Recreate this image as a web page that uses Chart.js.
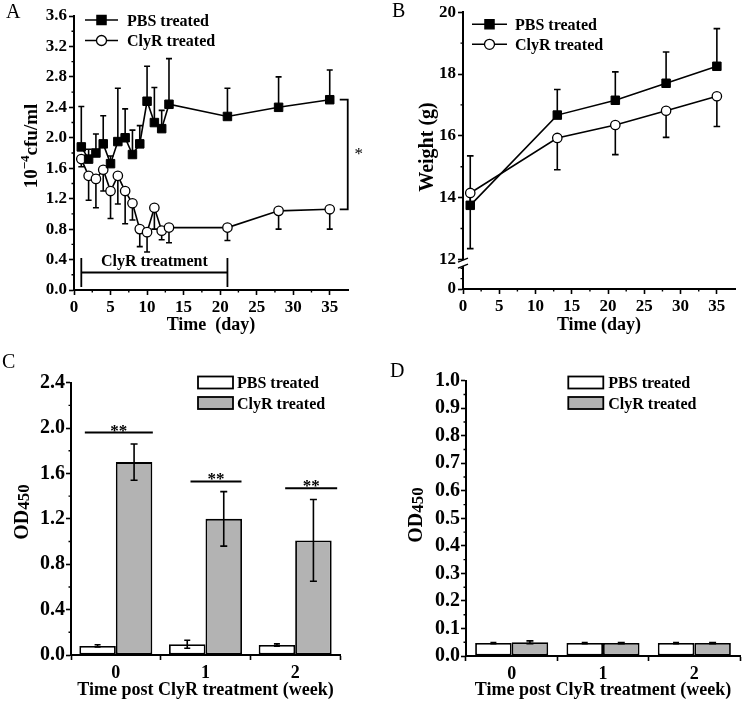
<!DOCTYPE html>
<html>
<head>
<meta charset="utf-8">
<script src="https://cdn.jsdelivr.net/npm/chart.js@4.4.0/dist/chart.umd.min.js"></script>
<style>
  html, body { margin: 0; padding: 0; background: #fff; }
  #wrap { position: relative; width: 742px; height: 702px; }
  canvas { position: absolute; }
</style>
</head>
<body>
<div id="wrap">
  <canvas id="cA" width="371" height="350" style="left:0;top:0"></canvas>
  <canvas id="cB" width="371" height="350" style="left:371px;top:0"></canvas>
  <canvas id="cC" width="371" height="352" style="left:0;top:350px"></canvas>
  <canvas id="cD" width="371" height="352" style="left:371px;top:350px"></canvas>
</div>
<script>
// panel A: bacterial load
const daysA = [1, 2, 3, 4, 5, 6, 7, 8, 9, 10, 11, 12, 13, 21, 28, 35];
const pbsCfu = [1.88, 1.72, 1.80, 1.92, 1.66, 1.95, 2.00, 1.78, 1.92, 2.48, 2.20, 2.12, 2.44, 2.28, 2.40, 2.50];
const pbsCfuErr = [0.53, 0.13, 0.25, 0.37, 0.10, 0.70, 0.38, 0.32, 0.24, 0.46, 0.46, 0.24, 0.60, 0.37, 0.40, 0.39];
const clyrCfu = [1.72, 1.50, 1.46, 1.58, 1.30, 1.50, 1.30, 1.14, 0.80, 0.76, 1.08, 0.78, 0.82, 0.82, 1.04, 1.06];
const clyrCfuErr = [0.10, 0.32, 0.38, 0.28, 0.36, 0.37, 0.43, 0.22, 0.23, 0.26, 0.28, 0.12, 0.20, 0.17, 0.24, 0.26];
const treatmentDays = [1, 21];
const cfuTicks = [0, 0.4, 0.8, 1.2, 1.6, 2.0, 2.4, 2.8, 3.2, 3.6];
const cfuMinor = [0.2, 0.6, 1.0, 1.4, 1.8, 2.2, 2.6, 3.0, 3.4];
const dayTicks = [0, 5, 10, 15, 20, 25, 30, 35];
const dayMinor = [2.5, 7.5, 12.5, 17.5, 22.5, 27.5, 32.5];

// panel B: body weight
const daysB = [1, 13, 21, 28, 35];
const pbsWeight = [13.75, 16.67, 17.15, 17.70, 18.25];
const pbsWeightErr = [1.60, 0.83, 0.92, 1.01, 1.22];
const clyrWeight = [14.15, 15.93, 16.35, 16.81, 17.28];
const clyrWeightErr = [1.80, 1.03, 0.96, 0.86, 0.98];
const weightTicks = [12, 14, 16, 18, 20];
const weightMinor = [13, 15, 17, 19];
const weightLowTicks = [0];
const weightLowMinor = [1, 2];

// panels C and D: OD450
const weeks = ['0', '1', '2'];
const pbsOdC = [0.080, 0.095, 0.088];
const pbsOdCErr = [0.010, 0.035, 0.010];
const clyrOdC = [1.70, 1.20, 1.01];
const clyrOdCErr = [0.16, 0.24, 0.36];
const sigC = [1.96, 1.53, 1.47];
const odTicksC = [0, 0.4, 0.8, 1.2, 1.6, 2.0, 2.4];
const odMinorC = [0.2, 0.6, 1.0, 1.4, 1.8, 2.2];
const pbsOdD = [0.047, 0.047, 0.047];
const pbsOdDErr = [0.002, 0.002, 0.002];
const clyrOdD = [0.050, 0.047, 0.047];
const clyrOdDErr = [0.005, 0.002, 0.002];
const odTicksD = [0, 0.1, 0.2, 0.3, 0.4, 0.5, 0.6, 0.7, 0.8, 0.9, 1.0];
const odMinorD = [0.05, 0.15, 0.25, 0.35, 0.45, 0.55, 0.65, 0.75, 0.85, 0.95];

const SERIF = '"Liberation Serif", "Times New Roman", serif';
const GRAY = '#b3b3b3';
Chart.defaults.font.family = SERIF;
Chart.defaults.color = '#000';

function fixedTicks(values) {
  return axis => { axis.ticks = values.map(v => ({ value: v })); };
}

function axisStyle(size, pad) {
  return {
    grid: { display: true, drawOnChartArea: false, drawTicks: true, tickLength: 5, tickWidth: 1.6, tickColor: '#000', color: '#000' },
    border: { display: true, color: '#000', width: 2 },
    ticks: { color: '#000', font: { family: SERIF, size: size, weight: 'bold' }, padding: pad, maxRotation: 0, autoSkip: false }
  };
}

function xTitle(text, padBottom) {
  return { display: true, text: text, color: '#000', font: { family: SERIF, size: 18, weight: 'bold' }, padding: { top: 0, bottom: padBottom } };
}

function drawMinor(chart, id, values, len) {
  const s = chart.scales[id], ctx = chart.ctx;
  ctx.save();
  ctx.strokeStyle = '#000';
  ctx.lineWidth = 1.4;
  ctx.beginPath();
  values.forEach(v => {
    const p = s.getPixelForValue(v);
    if (s.isHorizontal()) { ctx.moveTo(p, s.top); ctx.lineTo(p, s.top + len); }
    else { ctx.moveTo(s.right, p); ctx.lineTo(s.right - len, p); }
  });
  ctx.stroke();
  ctx.restore();
}

function drawErrors(chart, dsIndex, errs, dir, cap) {
  const meta = chart.getDatasetMeta(dsIndex);
  const ys = chart.scales[meta.yAxisID];
  const raw = chart.data.datasets[dsIndex].data;
  const ctx = chart.ctx;
  ctx.save();
  ctx.strokeStyle = '#000';
  ctx.lineWidth = 1.6;
  meta.data.forEach((el, i) => {
    const v = typeof raw[i] === 'object' ? raw[i].y : raw[i];
    const x = el.x;
    const ends = [];
    if (dir === 'up' || dir === 'both') ends.push(ys.getPixelForValue(v + errs[i]));
    if (dir === 'down' || dir === 'both') ends.push(ys.getPixelForValue(v - errs[i]));
    const mid = ys.getPixelForValue(v);
    ctx.beginPath();
    ends.forEach(e => {
      ctx.moveTo(x, mid); ctx.lineTo(x, e);
      ctx.moveTo(x - cap, e); ctx.lineTo(x + cap, e);
    });
    ctx.stroke();
  });
  ctx.restore();
}

function marker(ctx, style, x, y, filled) {
  ctx.save();
  ctx.lineWidth = 1.3;
  ctx.strokeStyle = '#000';
  ctx.fillStyle = filled ? '#000' : '#fff';
  ctx.beginPath();
  if (style === 'rect') ctx.rect(x - 4.6, y - 4.6, 9.2, 9.2);
  else ctx.arc(x, y, 5, 0, Math.PI * 2);
  ctx.fill();
  ctx.stroke();
  ctx.restore();
}

function lineLegend(chart, x0, x1, textX, rows) {
  const ctx = chart.ctx;
  chart.data.datasets.forEach((ds, i) => {
    const y = rows[i];
    ctx.save();
    ctx.strokeStyle = '#000';
    ctx.lineWidth = 1.6;
    ctx.beginPath(); ctx.moveTo(x0, y); ctx.lineTo(x1, y); ctx.stroke();
    ctx.restore();
    marker(ctx, ds.pointStyle, (x0 + x1) / 2, y, ds.pointBackgroundColor === '#000');
    ctx.save();
    ctx.fillStyle = '#000';
    ctx.font = 'bold 16px ' + SERIF;
    ctx.textBaseline = 'alphabetic';
    ctx.fillText(ds.label, textX, y + 5.5);
    ctx.restore();
  });
}

function barLegend(chart, x0, textX, rows) {
  const ctx = chart.ctx;
  chart.data.datasets.forEach((ds, i) => {
    const y = rows[i];
    ctx.save();
    ctx.fillStyle = ds.backgroundColor;
    ctx.strokeStyle = '#000';
    ctx.lineWidth = 1.8;
    ctx.fillRect(x0, y - 6, 35, 12);
    ctx.strokeRect(x0, y - 6, 35, 12);
    ctx.fillStyle = '#000';
    ctx.font = 'bold 16px ' + SERIF;
    ctx.textBaseline = 'alphabetic';
    ctx.fillText(ds.label, textX, y + 5.5);
    ctx.restore();
  });
}

// rotated axis title made of parts with their own size and baseline shift
function vTitle(ctx, cx, cy, parts) {
  ctx.save();
  let total = 0;
  parts.forEach(p => {
    ctx.font = 'bold ' + p.size + 'px ' + SERIF;
    p.w = ctx.measureText(p.text).width;
    total += p.w;
  });
  ctx.translate(cx, cy);
  ctx.rotate(-Math.PI / 2);
  ctx.fillStyle = '#000';
  ctx.textBaseline = 'alphabetic';
  ctx.textAlign = 'left';
  const base = parts[0].size * 0.33;
  let u = -total / 2;
  parts.forEach(p => {
    ctx.font = 'bold ' + p.size + 'px ' + SERIF;
    ctx.fillText(p.text, u, base + (p.shift || 0));
    u += p.w;
  });
  ctx.restore();
}

function panelLabel(ctx, text, x, y) {
  ctx.save();
  ctx.fillStyle = '#000';
  ctx.font = '20px ' + SERIF;
  ctx.textBaseline = 'alphabetic';
  ctx.fillText(text, x, y);
  ctx.restore();
}

const baseOpts = {
  responsive: false,
  animation: false,
  devicePixelRatio: 1,
  plugins: { legend: { display: false }, tooltip: { enabled: false } }
};

// ---------- A ----------
const axA = axisStyle(17, 2), axAx = axisStyle(17, 2);
new Chart(document.getElementById('cA'), {
  type: 'line',
  data: {
    datasets: [
      { label: 'PBS treated', data: daysA.map((d, i) => ({ x: d, y: pbsCfu[i] })),
        borderColor: '#000', borderWidth: 1.6, pointStyle: 'rect', pointRadius: 6,
        pointBackgroundColor: '#000', pointBorderColor: '#000', pointBorderWidth: 1 },
      { label: 'ClyR treated', data: daysA.map((d, i) => ({ x: d, y: clyrCfu[i] })),
        borderColor: '#000', borderWidth: 1.6, pointStyle: 'circle', pointRadius: 4.7,
        pointBackgroundColor: '#fff', pointBorderColor: '#000', pointBorderWidth: 1.3 }
    ]
  },
  options: {
    ...baseOpts,
    layout: { padding: { left: 0, top: 16, right: 23, bottom: 0 } },
    scales: {
      x: { type: 'linear', min: 0, max: 37.5, afterBuildTicks: fixedTicks(dayTicks),
           afterFit: s => { s.height = 60; }, ...axAx,
           ticks: { ...axAx.ticks, callback: v => String(v) }, title: xTitle('Time  (day)', 14) },
      y: { type: 'linear', min: 0, max: 3.6, afterBuildTicks: fixedTicks(cfuTicks),
           afterFit: s => { s.width = 74; }, ...axA,
           ticks: { ...axA.ticks, callback: v => v.toFixed(1) } }
    }
  },
  plugins: [{
    id: 'decorA',
    beforeDatasetsDraw(chart) {
      drawErrors(chart, 0, pbsCfuErr, 'up', 3);
      drawErrors(chart, 1, clyrCfuErr, 'down', 3);
    },
    afterDraw(chart) {
      const ctx = chart.ctx, xs = chart.scales.x, ys = chart.scales.y;
      drawMinor(chart, 'x', dayMinor, 2.5);
      drawMinor(chart, 'y', cfuMinor, 2.5);
      // treatment period bracket
      const t1 = xs.getPixelForValue(treatmentDays[0]), t2 = xs.getPixelForValue(treatmentDays[1]);
      const yb = ys.getPixelForValue(0.23), ylo = ys.getPixelForValue(0.04), yhi = ys.getPixelForValue(0.42);
      ctx.save();
      ctx.strokeStyle = '#000';
      ctx.lineWidth = 1.8;
      ctx.beginPath();
      ctx.moveTo(t1, ylo); ctx.lineTo(t1, yhi);
      ctx.moveTo(t2, ylo); ctx.lineTo(t2, yhi);
      ctx.moveTo(t1, yb); ctx.lineTo(t2, yb);
      ctx.stroke();
      ctx.fillStyle = '#000';
      ctx.font = 'bold 16px ' + SERIF;
      ctx.textAlign = 'center';
      ctx.fillText('ClyR treatment', (t1 + t2) / 2, yb - 6);
      // significance bracket at day 35
      const last = daysA.length - 1;
      const xe = xs.getPixelForValue(daysA[last]);
      const ya = ys.getPixelForValue(pbsCfu[last]), yc = ys.getPixelForValue(clyrCfu[last]);
      ctx.beginPath();
      ctx.moveTo(xe + 10, ya); ctx.lineTo(xe + 18, ya); ctx.lineTo(xe + 18, yc); ctx.lineTo(xe + 10, yc);
      ctx.stroke();
      ctx.font = '17px ' + SERIF;
      ctx.fillText('*', xe + 29, (ya + yc) / 2 + 4);
      ctx.restore();
      lineLegend(chart, 85, 118, 127, [20, 40.5]);
      vTitle(ctx, 31, 146, [
        { text: '10', size: 19 },
        { text: '\u22124', size: 13, shift: -8 },
        { text: 'cfu/ml', size: 19 }
      ]);
      panelLabel(ctx, 'A', 6, 18);
    }
  }]
});

// ---------- B ----------
const axB = axisStyle(17, 2), axBx = axisStyle(17, 2);
new Chart(document.getElementById('cB'), {
  type: 'line',
  data: {
    datasets: [
      { label: 'PBS treated', yAxisID: 'y', data: daysB.map((d, i) => ({ x: d, y: pbsWeight[i] })),
        borderColor: '#000', borderWidth: 1.6, pointStyle: 'rect', pointRadius: 6,
        pointBackgroundColor: '#000', pointBorderColor: '#000', pointBorderWidth: 1 },
      { label: 'ClyR treated', yAxisID: 'y', data: daysB.map((d, i) => ({ x: d, y: clyrWeight[i] })),
        borderColor: '#000', borderWidth: 1.6, pointStyle: 'circle', pointRadius: 4.7,
        pointBackgroundColor: '#fff', pointBorderColor: '#000', pointBorderWidth: 1.3 }
    ]
  },
  options: {
    ...baseOpts,
    layout: { padding: { left: 0, top: 11, right: 4, bottom: 0 } },
    scales: {
      x: { type: 'linear', min: 0, max: 37.5, afterBuildTicks: fixedTicks(dayTicks),
           afterFit: s => { s.height = 61; }, ...axBx,
           ticks: { ...axBx.ticks, callback: v => String(v) }, title: xTitle('Time (day)', 14) },
      yLow: { type: 'linear', position: 'left', stack: 'w', stackWeight: 26, min: 0, max: 2.5,
              afterBuildTicks: fixedTicks(weightLowTicks), afterFit: s => { s.width = 92; }, ...axB,
              ticks: { ...axB.ticks, callback: v => String(v) } },
      y: { type: 'linear', position: 'left', stack: 'w', stackWeight: 252, min: 11.88, max: 20,
           afterBuildTicks: fixedTicks(weightTicks), afterFit: s => { s.width = 92; }, ...axB,
           ticks: { ...axB.ticks, callback: v => String(v) } }
    }
  },
  plugins: [{
    id: 'decorB',
    beforeDatasetsDraw(chart) {
      drawErrors(chart, 0, pbsWeightErr, 'up', 3.3);
      drawErrors(chart, 1, clyrWeightErr, 'down', 3.3);
    },
    afterDraw(chart) {
      const ctx = chart.ctx;
      drawMinor(chart, 'x', dayMinor, 2.5);
      drawMinor(chart, 'y', weightMinor, 2.5);
      drawMinor(chart, 'yLow', weightLowMinor, 2.5);
      // axis break marks
      const up = chart.scales.y, low = chart.scales.yLow;
      const ax = up.right;
      const yb = Math.min(up.bottom, low.bottom);
      ctx.save();
      ctx.fillStyle = '#fff';
      ctx.fillRect(ax - 3, yb - 3, 6, 6);
      ctx.strokeStyle = '#000';
      ctx.lineWidth = 1.5;
      ctx.beginPath();
      ctx.moveTo(ax - 5, yb - 1); ctx.lineTo(ax + 5, yb - 5);
      ctx.moveTo(ax - 5, yb + 5); ctx.lineTo(ax + 5, yb + 1);
      ctx.stroke();
      ctx.restore();
      lineLegend(chart, 101, 136, 144, [24.3, 44.3]);
      vTitle(ctx, 55, 147, [{ text: 'Weight (g)', size: 20 }]);
      panelLabel(ctx, 'B', 21, 17);
    }
  }]
});

// ---------- C and D ----------
function odChart(id, pbs, pbsErr, clyr, clyrErr, yMax, ticks, minor, size, pad, extra) {
  const ay = axisStyle(20, 1), ax = axisStyle(18, 3);
  return new Chart(document.getElementById(id), {
    type: 'bar',
    data: {
      labels: weeks,
      datasets: [
        { label: 'PBS treated', data: pbs, backgroundColor: '#fff', borderColor: '#000', borderWidth: 1.8, borderSkipped: false },
        { label: 'ClyR treated', data: clyr, backgroundColor: GRAY, borderColor: '#000', borderWidth: 1.8, borderSkipped: false }
      ]
    },
    options: {
      ...baseOpts,
      datasets: { bar: { categoryPercentage: size.cat, barPercentage: 1.0 } },
      layout: { padding: pad },
      scales: {
        x: { type: 'category', afterFit: s => { s.height = size.xh; }, ...ax,
             grid: { ...ax.grid, offset: true }, title: xTitle('Time post ClyR treatment (week)', 0.5) },
        y: { type: 'linear', min: 0, max: yMax, afterBuildTicks: fixedTicks(ticks),
             afterFit: s => { s.width = size.yw; }, ...ay,
             ticks: { ...ay.ticks, callback: v => v.toFixed(1) } }
      }
    },
    plugins: [{
      id: 'decor' + id,
      afterDatasetsDraw(chart) {
        drawErrors(chart, 0, pbsErr, 'both', 3);
        drawErrors(chart, 1, clyrErr, 'both', 3.5);
      },
      afterDraw(chart) {
        drawMinor(chart, 'y', minor, 2.5);
        extra(chart);
      }
    }]
  });
}

odChart('cC', pbsOdC, pbsOdCErr, clyrOdC, clyrOdCErr, 2.4, odTicksC, odMinorC,
  { cat: 0.814, xh: 47, yw: 71 }, { left: 0, top: 32.7, right: 31, bottom: 0 },
  chart => {
    const ctx = chart.ctx, xs = chart.scales.x, ys = chart.scales.y;
    const spans = [[-31, 37], [-15, 36], [-10, 42]];
    ctx.save();
    ctx.strokeStyle = '#000';
    ctx.fillStyle = '#000';
    ctx.lineWidth = 2;
    ctx.font = 'bold 17px ' + SERIF;
    ctx.textAlign = 'center';
    sigC.forEach((v, i) => {
      const c = xs.getPixelForValue(i), y = ys.getPixelForValue(v);
      ctx.beginPath();
      ctx.moveTo(c + spans[i][0], y); ctx.lineTo(c + spans[i][1], y);
      ctx.stroke();
      ctx.fillText('**', c + (spans[i][0] + spans[i][1]) / 2, y + 3);
    });
    ctx.restore();
    barLegend(chart, 198, 237, [32.5, 53]);
    vTitle(ctx, 21, 162, [{ text: 'OD', size: 20 }, { text: '450', size: 17, shift: 1 }]);
    panelLabel(ctx, 'C', 2, 18);
  });

odChart('cD', pbsOdD, pbsOdDErr, clyrOdD, clyrOdDErr, 1.0, odTicksD, odMinorD,
  { cat: 0.8, xh: 46, yw: 95 }, { left: 0, top: 30.7, right: 2, bottom: 0 },
  chart => {
    const ctx = chart.ctx;
    barLegend(chart, 197.3, 237.3, [32.5, 53]);
    vTitle(ctx, 44, 165, [{ text: 'OD', size: 20 }, { text: '450', size: 17, shift: 1 }]);
    panelLabel(ctx, 'D', 19, 27);
  });
</script>
</body>
</html>
